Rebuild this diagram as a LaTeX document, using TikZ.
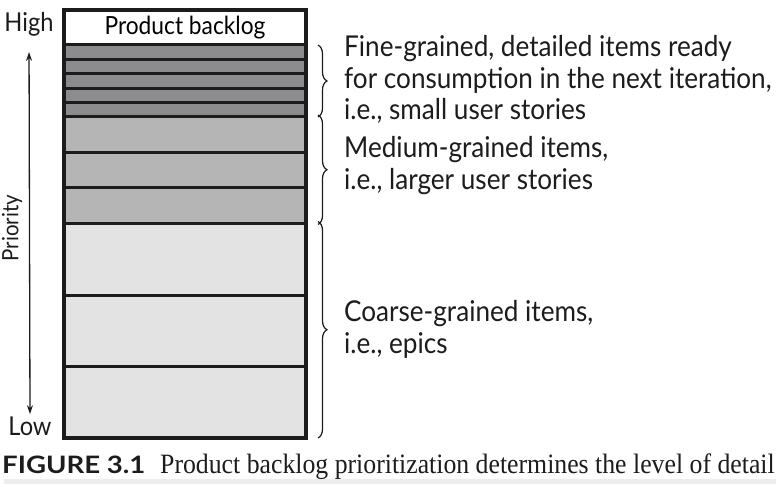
\documentclass[tikz,border=0pt]{standalone}
\usepackage{fontspec}
\setmainfont{Liberation Serif}
\newfontfamily\sidefont[FakeStretch = 0.91]{Lato}
\newfontfamily\capfont[FakeStretch = 0.92]{Liberation Serif}
\newfontfamily\figfont[FakeStretch = 1.15]{Lato}
\usetikzlibrary{positioning,decorations.pathreplacing,arrows.meta}

\definecolor{finegray}{HTML}{8C8C8E}
\definecolor{medgray}{HTML}{B5B5B5}
\definecolor{coarsegray}{HTML}{E3E3E3}
\definecolor{inkline}{HTML}{1C1C1C}

\tikzset{
  row/.style = {draw = inkline, line width = 3pt, minimum width = 242pt,
                inner sep = 0pt, outer sep = 0pt},
  sidetext/.style = {font = \sidefont\fontsize{28.7}{31.5}\selectfont, align = left,
                     inner sep = 0pt, anchor = base west, text = inkline},
  axistext/.style = {font = \sidefont\fontsize{26}{26}\selectfont, text = inkline,
                     inner sep = 0pt, anchor = base},
  curly/.style = {decorate, decoration = {brace, amplitude = 9pt}, line width = 1.2pt, inkline}
}

\begin{document}
\begin{tikzpicture} [x = 1pt, y = -1pt]
\useasboundingbox (0,0) rectangle (780,484);
\fill[black!7] (4,479) rectangle (776,484);
% the backlog column, top to bottom
\node[row, fill = white, minimum height = 35pt, anchor = north] (head) at (185, 10)
  {\sidefont\fontsize{25}{25}\selectfont Product backlog};
\node[row, fill = finegray, minimum height = 14.4pt, below = 0pt of head] (f1) {};
\foreach \i [count = \j from 2] in {1,...,4}
  \node[row, fill = finegray, minimum height = 14.4pt, below = 0pt of f\i] (f\j) {};
\node[row, fill = medgray, minimum height = 35.5pt, below = 0pt of f5] (m1) {};
\node[row, fill = medgray, minimum height = 35.5pt, below = 0pt of m1] (m2) {};
\node[row, fill = medgray, minimum height = 35.5pt, below = 0pt of m2] (m3) {};
\node[row, fill = coarsegray, minimum height = 71.5pt, below = 0pt of m3] (c1) {};
\node[row, fill = coarsegray, minimum height = 71.5pt, below = 0pt of c1] (c2) {};
\node[row, fill = coarsegray, minimum height = 71.5pt, below = 0pt of c2] (c3) {};
\draw[line width = 4pt, inkline] (head.north west) rectangle (c3.south east);

% priority axis
\node[axistext] (high) at (29, 32) {High};
\node[axistext] (low) at (30, 435) {Low};
\node[axistext, font = \sidefont\fontsize{22.5}{22.5}\selectfont, rotate = 90, anchor = center] (prio) at (12, 228) {Priority};
\draw[{Stealth[length = 9pt, width = 6pt]}-{Stealth[length = 9pt, width = 6pt]}, line width = 1.3pt, inkline,
      shorten < = 15pt, shorten > = 2pt] (high.south) -- (low.north);

% braces and their texts
\draw[curly] ([xshift = 12pt]f1.north east) -- ([xshift = 12pt]f5.south east);
\draw[curly] ([xshift = 12pt, yshift = 2pt]m1.north east) -- ([xshift = 12pt, yshift = -1pt]m3.south east);
\draw[curly] ([xshift = 12pt, yshift = 2pt]c1.north east) -- ([xshift = 12pt]c3.south east);
\node[sidetext] (finetxt) at (344, 120)
  {Fine-grained, detailed items ready\\for consumption in the next iteration,\\i.e., small user stories};
\node[sidetext] (medtxt) at (344, 189.5) {Medium-grained items,\\i.e., larger user stories};
\node[sidetext] (coarsetxt) at (344, 353) {Coarse-grained items,\\i.e., epics};

% caption
\node[anchor = base west, inner sep = 0pt, text = inkline] (fig) at (2, 473)
  {\figfont\bfseries\fontsize{24}{24}\selectfont FIGURE 3.1};
\node[anchor = base west, inner sep = 0pt, text = inkline] (cap) at (160, 473)
  {\capfont\fontsize{28}{28}\selectfont Product backlog prioritization determines the level of detail};
\end{tikzpicture}
\end{document}
